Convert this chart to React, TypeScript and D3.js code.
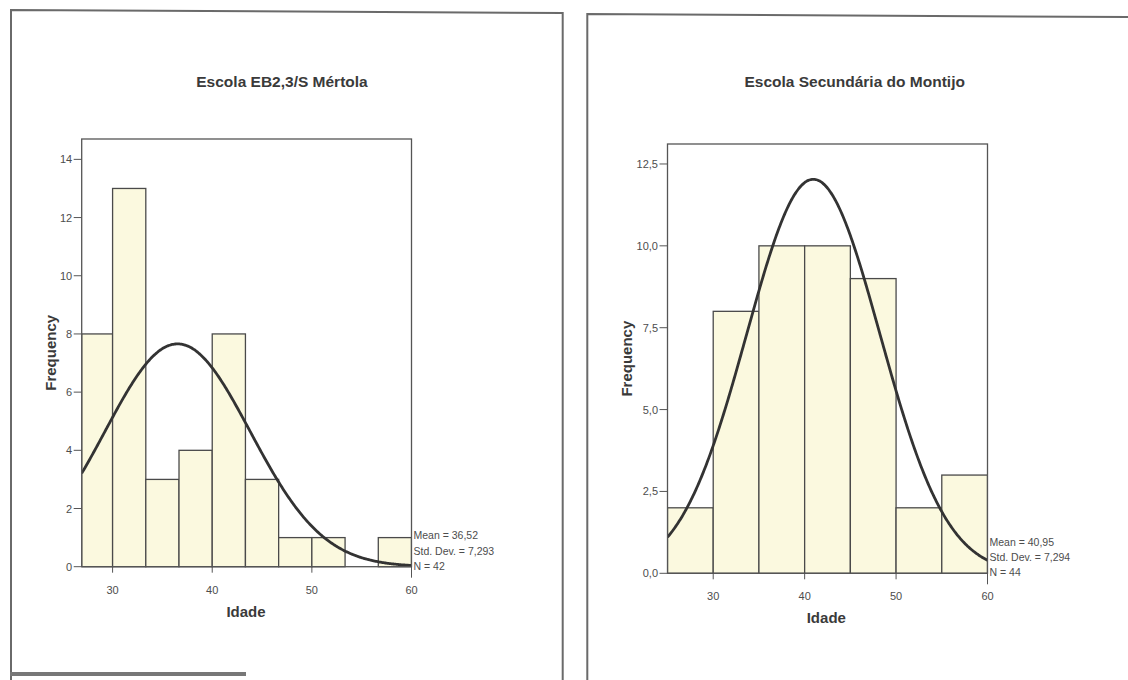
import React from 'react';
import * as d3 from 'd3';

// Escola EB2,3/S Mértola
const leftTitle = 'Escola EB2,3/S Mértola';
const leftCounts = [8, 13, 3, 4, 8, 3, 1, 1, 0, 1];
const leftBinStart = 80 / 3;
const leftBinWidth = 10 / 3;
const leftStats = { mean: 36.52, sd: 7.293, n: 42 };
const leftMeanLabel = '36,52';
const leftSdLabel = '7,293';
const leftYTicks = [0, 2, 4, 6, 8, 10, 12, 14];

// Escola Secundária do Montijo
const rightTitle = 'Escola Secundária do Montijo';
const rightCounts = [2, 8, 10, 10, 9, 2, 3];
const rightBinStart = 25;
const rightBinWidth = 5;
const rightStats = { mean: 40.95, sd: 7.294, n: 44 };
const rightMeanLabel = '40,95';
const rightSdLabel = '7,294';
const rightYTicks = [0, 2.5, 5, 7.5, 10, 12.5];

const xTicks = [30, 40, 50, 60];

const FONT = '"Liberation Sans", Arial, sans-serif';
const INK = '#3a3a3a';
const LINE = '#555';

type PanelProps = {
  title: string;
  counts: number[];
  binStart: number;
  binWidth: number;
  stats: { mean: number; sd: number; n: number };
  meanLabel: string;
  sdLabel: string;
  yTicks: number[];
  yFmt: (v: number) => string;
  xDomain: [number, number];
  yMax: number;
  box: { left: number; right: number; top: number; bottom: number };
  titleX: number;
  titleY: number;
  yLabelX: number;
  xLabelX: number;
  id: string;
};

function Panel(p: PanelProps) {
  const { box } = p;
  const x = d3.scaleLinear().domain(p.xDomain).range([box.left, box.right]);
  const y = d3.scaleLinear().domain([0, p.yMax]).range([box.bottom, box.top]);

  const bins = p.counts.map((c, i) => ({
    x0: p.binStart + i * p.binWidth,
    x1: p.binStart + (i + 1) * p.binWidth,
    c,
  }));

  // fitted normal curve scaled to counts
  const pdf = (v: number) =>
    Math.exp(-0.5 * ((v - p.stats.mean) / p.stats.sd) ** 2) / (p.stats.sd * Math.sqrt(2 * Math.PI));
  const curvePts = d3.range(p.xDomain[0], p.xDomain[1] + 0.001, 0.1).map(v => [v, p.stats.n * p.binWidth * pdf(v)] as [number, number]);
  const line = d3.line<[number, number]>().x(d => x(d[0])).y(d => y(d[1])).curve(d3.curveBasis);

  const midY = (box.top + box.bottom) / 2;

  return (
    <g>
      <defs>
        <clipPath id={`clip-${p.id}`}>
          <rect x={box.left} y={box.top - 2} width={box.right - box.left} height={box.bottom - box.top + 4} />
        </clipPath>
      </defs>
      <text x={p.titleX} y={p.titleY} textAnchor="middle" fontFamily={FONT} fontWeight="bold" fontSize={15.5} fill={INK}>
        {p.title}
      </text>
      <g clipPath={`url(#clip-${p.id})`}>
        {bins.filter(b => b.c > 0).map((b, i) => (
          <rect
            key={i}
            x={x(Math.max(b.x0, p.xDomain[0]))}
            y={y(b.c)}
            width={x(b.x1) - x(Math.max(b.x0, p.xDomain[0]))}
            height={y(0) - y(b.c)}
            fill="#fbf9df"
            stroke="#4a4a4a"
            strokeWidth={1.3}
          />
        ))}
        <path d={line(curvePts) || ''} fill="none" stroke="#333" strokeWidth={2.8} />
      </g>
      {/* plot frame */}
      <rect x={box.left} y={box.top} width={box.right - box.left} height={box.bottom - box.top} fill="none" stroke={LINE} strokeWidth={1.3} />
      {/* y axis */}
      {p.yTicks.map(t => (
        <g key={t}>
          <line x1={box.left - 8} x2={box.left} y1={y(t)} y2={y(t)} stroke={LINE} strokeWidth={1} />
          <text x={box.left - 9.5} y={y(t) + 4} textAnchor="end" fontFamily={FONT} fontSize={11} fill="#4d4d4d">
            {p.yFmt(t)}
          </text>
        </g>
      ))}
      {/* x axis */}
      {xTicks.map(t => (
        <g key={t}>
          <line x1={x(t)} x2={x(t)} y1={box.bottom} y2={box.bottom + (t === p.xDomain[1] ? 11 : 6)} stroke={LINE} strokeWidth={1} />
          <text x={x(t)} y={box.bottom + 27} textAnchor="middle" fontFamily={FONT} fontSize={11} fill="#4d4d4d">
            {t}
          </text>
        </g>
      ))}
      <text x={p.xLabelX} y={box.bottom + 50} textAnchor="middle" fontFamily={FONT} fontWeight="bold" fontSize={15} fill={INK}>
        Idade
      </text>
      <text
        transform={`translate(${p.yLabelX},${midY}) rotate(-90)`}
        textAnchor="middle"
        fontFamily={FONT}
        fontWeight="bold"
        fontSize={15}
        fill={INK}
      >
        Frequency
      </text>
      {/* stats legend */}
      <g fontFamily={FONT} fontSize={10.5} fill="#4d4d4d">
        <text x={box.right + 2} y={box.bottom - 27.5}>Mean = {p.meanLabel}</text>
        <text x={box.right + 2} y={box.bottom - 12}>Std. Dev. = {p.sdLabel}</text>
        <text x={box.right + 2} y={box.bottom + 2.8}>N = {p.stats.n}</text>
      </g>
    </g>
  );
}

export default function App() {
  const fmtComma = (v: number) => d3.format('.1f')(v).replace('.', ',');
  return (
    <svg width={1128} height={680} style={{ position: 'absolute', left: 0, top: 0, background: '#fff' }}>
      {/* scanned page frames */}
      <polyline points="11,680 11,10 562.7,13 562.7,680" fill="none" stroke="#6a6a6a" strokeWidth={2} />
      <polyline points="587.3,680 587.3,14 1128,17" fill="none" stroke="#6a6a6a" strokeWidth={2} />
      <rect x={10} y={672} width={236} height={4} fill="#777" />

      <Panel
        id="l"
        title={leftTitle}
        counts={leftCounts}
        binStart={leftBinStart}
        binWidth={leftBinWidth}
        stats={leftStats}
        meanLabel={leftMeanLabel}
        sdLabel={leftSdLabel}
        yTicks={leftYTicks}
        yFmt={v => String(v)}
        xDomain={[26.9, 60]}
        yMax={14.7}
        box={{ left: 81.7, right: 411.5, top: 139, bottom: 566.7 }}
        titleX={282}
        titleY={87.3}
        yLabelX={55.5}
        xLabelX={246}
      />
      <Panel
        id="r"
        title={rightTitle}
        counts={rightCounts}
        binStart={rightBinStart}
        binWidth={rightBinWidth}
        stats={rightStats}
        meanLabel={rightMeanLabel}
        sdLabel={rightSdLabel}
        yTicks={rightYTicks}
        yFmt={fmtComma}
        xDomain={[25, 60]}
        yMax={13.11}
        box={{ left: 667.5, right: 987.5, top: 144, bottom: 573.3 }}
        titleX={854.7}
        titleY={87.3}
        yLabelX={632}
        xLabelX={826.3}
      />
    </svg>
  );
}
